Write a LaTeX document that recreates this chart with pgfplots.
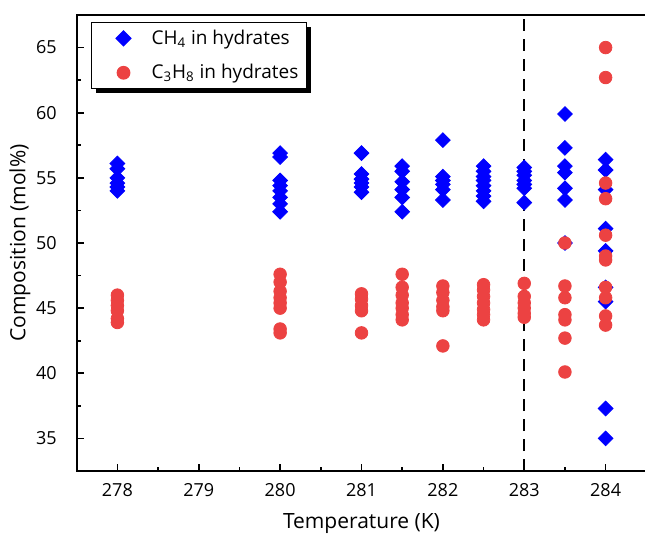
\documentclass[border=0pt]{standalone}
\usepackage{pgfplots}
\pgfplotsset{compat=1.18}
\usepackage{fontspec}
\setmainfont{Open Sans}
\usetikzlibrary{shadows}
\definecolor{myblue}{RGB}{0,0,255}
\definecolor{myred}{RGB}{236,66,66}
\begin{document}
\begin{tikzpicture}
\begin{axis}[
  scale only axis,
  width=284.8pt, height=228pt,
  xmin=277.5, xmax=284.5, ymin=32.5, ymax=67.5,
  xtick={278,279,280,281,282,283,284},
  ytick={35,40,45,50,55,60,65},
  minor x tick num=1, minor y tick num=1,
  tick align=inside, tick pos=left,
  major tick length=3.5pt, minor tick length=2pt,
  axis line style={line width=1pt},
  every tick/.style={black, line width=0.8pt},
  /pgf/number format/assume math mode=true,
  xticklabel style={font=\fontsize{9}{10}\selectfont, yshift=-2.5pt},
  yticklabel style={font=\fontsize{9}{10}\selectfont, xshift=-6.5pt},
  xticklabel={\pgfmathprintnumber[fixed,precision=0]{\tick}},
  xlabel={Temperature (K)},
  ylabel={Composition (mol\%)},
  x label style={at={(axis description cs:0.5,-0.1150)}, anchor=center, font=\fontsize{10.5}{12}\selectfont},
  y label style={at={(axis description cs:-0.0995,0.5)}, anchor=center, font=\fontsize{10.5}{12}\selectfont},
  legend style={at={(axis description cs:0.0251,0.9846)}, anchor=north west,
    draw=black, line width=0.6pt, fill=white,
    drop shadow={shadow xshift=2.2pt, shadow yshift=-2.2pt, fill=black, opacity=1},
    font=\fontsize{9.5}{11}\selectfont,
    inner xsep=2pt, inner ysep=1.5pt, row sep=4.5pt,
    legend cell align=left},
  legend image code/.code={\draw[#1] plot coordinates {(0.35cm+4pt,0cm)}; \path[draw=none] (0,0) (0.35cm+16pt,0);},
]
\coordinate (ll) at (rel axis cs:0,0);
\coordinate (ur) at (rel axis cs:1,1);
\addplot[only marks, mark=square*, mark size=2.6pt, mark options={rotate=45, fill=myblue, draw=myblue}, color=myblue] coordinates {
(278,56.1) (278,55.7) (278,55.0) (278,54.6) (278,54.3) (278,54.0)
(280,56.9) (280,56.6) (280,54.8) (280,54.4) (280,54.0) (280,53.5) (280,53.0) (280,52.4)
(281,56.9) (281,55.3) (281,54.9) (281,54.6) (281,54.3) (281,53.9)
(281.5,55.9) (281.5,55.5) (281.5,54.7) (281.5,54.1) (281.5,53.5) (281.5,52.4)
(282,57.9) (282,55.1) (282,54.8) (282,54.5) (282,54.1) (282,53.3)
(282.5,55.9) (282.5,55.5) (282.5,55.1) (282.5,54.8) (282.5,54.4) (282.5,54.0) (282.5,53.6) (282.5,53.2)
(283,55.8) (283,55.5) (283,55.2) (283,54.8) (283,54.5) (283,54.2) (283,53.1)
(283.5,59.9) (283.5,57.3) (283.5,55.9) (283.5,55.4) (283.5,54.2) (283.5,53.3) (283.5,50.0)
(284,56.4) (284,55.6) (284,54.1) (284,51.1) (284,49.4) (284,46.6) (284,45.5) (284,37.3) (284,35.0)
};
\addlegendentry{CH\textsubscript{4} in hydrates}
\addplot[only marks, mark=*, mark size=3.15pt, mark options={fill=myred, draw=myred}, color=myred] coordinates {
(278,46.0) (278,45.6) (278,45.2) (278,44.8) (278,44.2) (278,43.9)
(280,47.6) (280,47.0) (280,46.3) (280,45.8) (280,45.4) (280,45.0) (280,43.4) (280,43.1)
(281,46.1) (281,45.7) (281,45.2) (281,44.8) (281,43.1)
(281.5,47.6) (281.5,46.6) (281.5,46.0) (281.5,45.4) (281.5,45.0) (281.5,44.5) (281.5,44.1)
(282,46.7) (282,46.2) (282,45.6) (282,45.1) (282,44.8) (282,42.1)
(282.5,46.8) (282.5,46.4) (282.5,45.9) (282.5,45.4) (282.5,44.9) (282.5,44.5) (282.5,44.1)
(283,46.9) (283,45.9) (283,45.4) (283,45.0) (283,44.6) (283,44.3)
(283.5,50.0) (283.5,46.7) (283.5,45.8) (283.5,44.5) (283.5,44.1) (283.5,42.7) (283.5,40.1)
(284,65.0) (284,62.7) (284,54.6) (284,53.4) (284,50.6) (284,49.0) (284,48.7) (284,46.6) (284,45.8) (284,44.4) (284,43.7)
};
\addlegendentry{C\textsubscript{3}H\textsubscript{8} in hydrates}
\addplot[forget plot, black, line width=1pt, dash pattern=on 6pt off 4pt] coordinates {(283,32.5) (283,67.5)};
\end{axis}
\pgfresetboundingbox
\path[use as bounding box] ([xshift=-38.35pt,yshift=-34.5pt]ll) rectangle ([xshift=-0.65pt,yshift=7.5pt]ur);
\end{tikzpicture}
\end{document}
